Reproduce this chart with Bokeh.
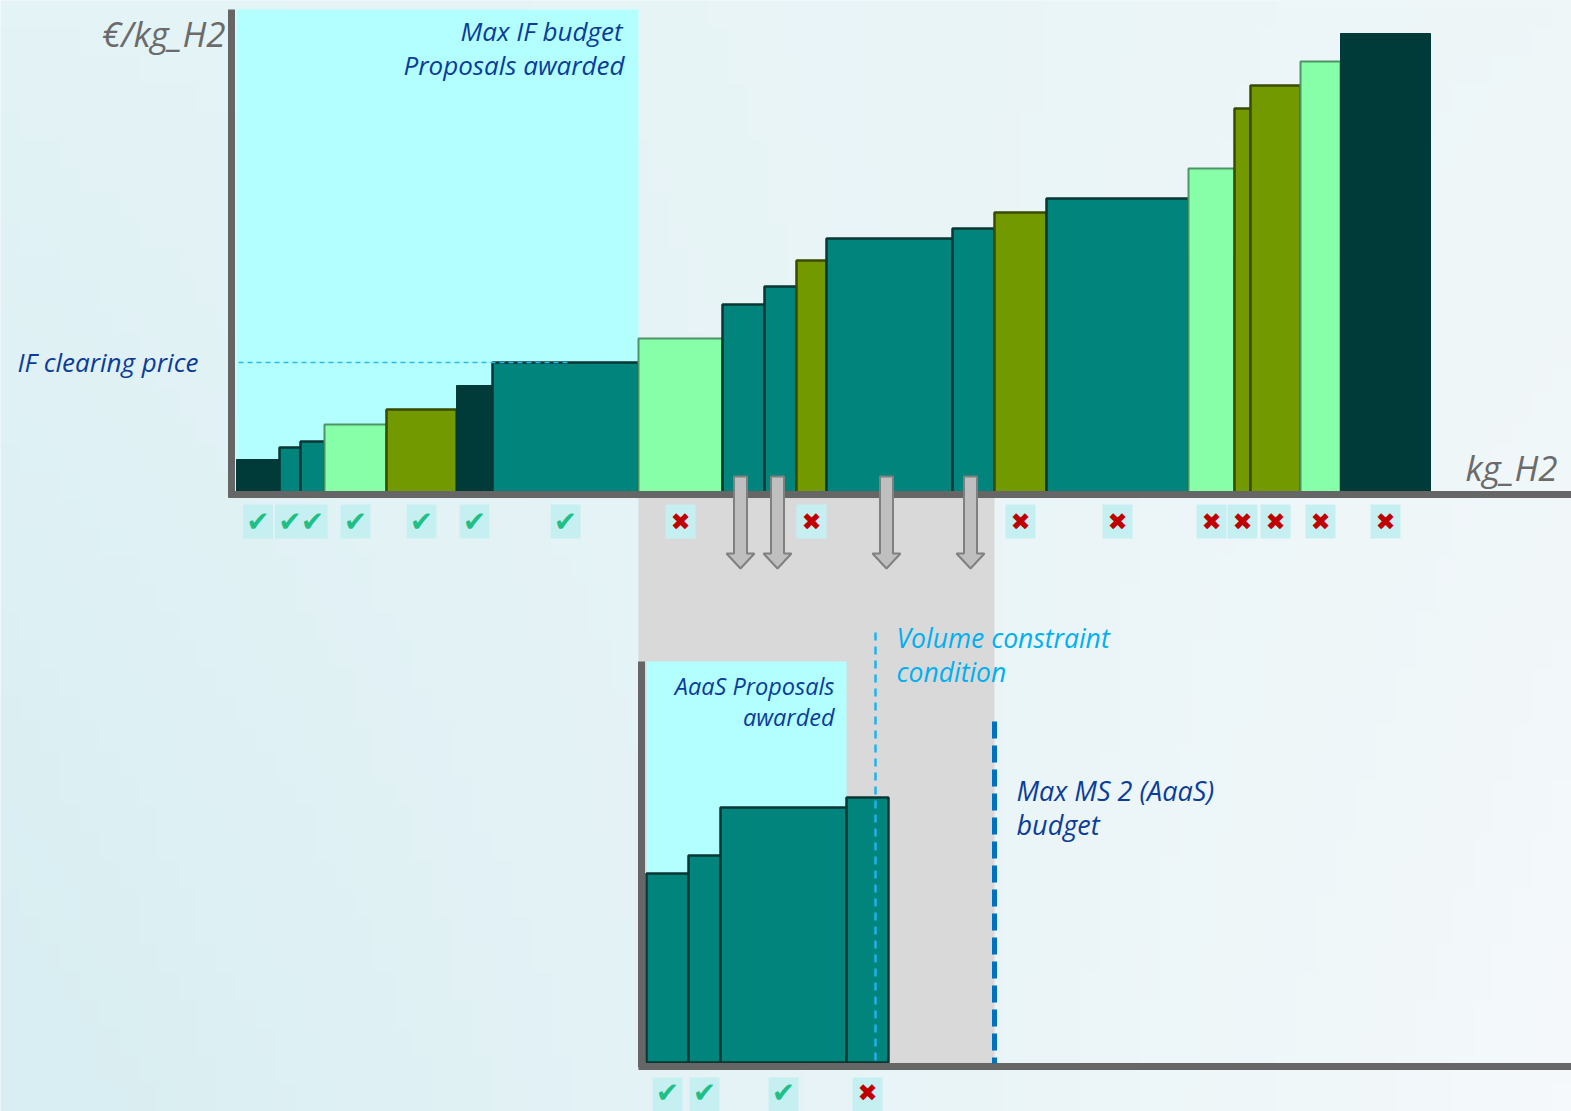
import numpy as np
from bokeh.plotting import figure
from bokeh.models import Range1d
from bokeh.core.properties import value
from bokeh.embed import file_html
from bokeh.resources import INLINE

# ---------------- data ----------------
# Innovation Fund merit order: volume (kt H2, illustrative) and bid price (EUR/kg H2)
volumes = [4.3, 2.1, 2.4, 6.2, 7.0, 3.6, 14.6, 8.4, 4.2, 3.2, 3.0, 12.6, 4.2, 5.2, 14.2, 4.6, 1.6, 5.0, 4.0, 9.0]
prices = [0.34, 0.46, 0.52, 0.69, 0.84, 1.08, 1.31, 1.55, 1.89, 2.07, 2.33, 2.55, 2.65, 2.81, 2.95, 3.25, 3.85, 4.08, 4.32, 4.60]
groups = ["dark", "teal", "teal", "light", "olive", "dark", "teal", "light", "teal", "teal",
          "olive", "teal", "teal", "olive", "teal", "light", "olive", "olive", "light", "dark"]
outcome = ["awarded"] * 7 + ["rejected", "aaas", "aaas", "rejected", "aaas", "aaas"] + ["rejected"] * 7
# Auction-as-a-Service (MS 2) outcome for bids passed down
aaas_outcome = ["awarded", "awarded", "awarded", "rejected"]
volume_constraint = 22.9     # AaaS volume constraint (same volume units)
ms2_budget_volume = 34.8     # Max MS 2 (AaaS) budget

fill = {"dark": "#003B3A", "teal": "#00847B", "light": "#86FFA8", "olive": "#729A00"}
edge = {"dark": "#003B3A", "teal": "#0A3734", "light": "#4E9466", "olive": "#3A4A00"}
edge_w = {"dark": 1, "teal": 2.5, "light": 2, "olive": 2.5}

# ---------------- derived ----------------
right = list(np.cumsum(volumes))
left = [r - v for r, v in zip(right, volumes)]
centers = [(l + r) / 2 for l, r in zip(left, right)]
n_award = outcome.count("awarded")
if_budget_vol = right[n_award - 1]
clearing_price = prices[n_award - 1]
aaas_idx = [i for i, o in enumerate(outcome) if o == "aaas"]
a_vol = [volumes[i] for i in aaas_idx]
a_price = [prices[i] for i in aaas_idx]
a_right = list(np.cumsum(a_vol))
a_left = [r - v for r, v in zip(a_right, a_vol)]
a_centers = [(l + r) / 2 for l, r in zip(a_left, a_right)]
gray_l = if_budget_vol
gray_r = right[aaas_idx[-1]]

W, H = 1571, 1111
p = figure(width=W, height=H, output_backend="svg", toolbar_location=None,
           x_range=Range1d(0, W), y_range=Range1d(H, 0),
           x_axis_type=None, y_axis_type=None, min_border=0)
p.outline_line_color = None
p.grid.visible = False
p.background_fill_color = "#E8F4F7"
p.border_fill_color = "#E8F4F7"

# top chart: 10 px per volume unit, 100 px per EUR; origin at (236, 493)
p.extra_x_ranges = {"tx": Range1d(-23.6, (W - 236) / 10), "lx": Range1d(-64.6, (W - 646) / 10)}
p.extra_y_ranges = {"ty": Range1d((493 - H) / 100, 493 / 100), "ly": Range1d((1062 - H) / 100, 1062 / 100)}

# background gradient
ny, nx = 40, 80
tl, bl, tr, br = [np.array(c) for c in [(0xE3, 0xF3, 0xF6), (0xD8, 0xEE, 0xF2), (0xEE, 0xF6, 0xF8), (0xF5, 0xF9, 0xFB)]]
img = np.zeros((ny, nx), dtype=np.uint32)
view = img.view(dtype=np.uint8).reshape((ny, nx, 4))
for j in range(ny):
    fy = j / (ny - 1)
    for i in range(nx):
        fx = i / (nx - 1)
        c = (tl * (1 - fx) + tr * fx) * (1 - fy) + (bl * (1 - fx) + br * fx) * fy
        view[j, i, 0:3] = c.astype(np.uint8)
        view[j, i, 3] = 255
p.image_rgba(image=[img], x=0, y=0, dw=W, dh=H)

# shaded areas
p.quad(left=[0], right=[if_budget_vol], bottom=[0], top=[4.84], fill_color="#B3FFFF",
       line_color=None, x_range_name="tx", y_range_name="ty")
p.quad(left=[gray_l], right=[gray_r], bottom=[1063], top=[497], fill_color="#D9D9D9",
       line_color=None, x_range_name="tx")
p.quad(left=[0], right=[a_right[2]], bottom=[0], top=[4.01], fill_color="#B3FFFF",
       line_color=None, x_range_name="lx", y_range_name="ly")

# top bars
p.quad(left=left, right=right, bottom=[0] * len(volumes), top=prices,
       fill_color=[fill[g] for g in groups], line_color=[edge[g] for g in groups],
       line_width=[edge_w[g] for g in groups], x_range_name="tx", y_range_name="ty")
# lower bars
p.quad(left=a_left, right=a_right, bottom=[0] * len(a_vol), top=a_price,
       fill_color=fill["teal"], line_color=edge["teal"], line_width=2.5,
       x_range_name="lx", y_range_name="ly")

# clearing price dashed line
p.segment(x0=[0.2], y0=[clearing_price], x1=[33.4], y1=[clearing_price], line_color="#2BB8EC",
          line_width=1.5, line_dash="5 4", x_range_name="tx", y_range_name="ty")

# axes lines
axc = "#666666"
p.segment(x0=[231], y0=[9], x1=[231], y1=[497], line_color=axc, line_width=7)
p.segment(x0=[228], y0=[494], x1=[W], y1=[494], line_color=axc, line_width=7)
p.segment(x0=[641], y0=[661], x1=[641], y1=[1067], line_color=axc, line_width=7)
p.segment(x0=[638], y0=[1066], x1=[W], y1=[1066], line_color=axc, line_width=7)

# volume constraint and MS2 budget lines
p.segment(x0=[volume_constraint], y0=[632], x1=[volume_constraint], y1=[1062], line_color="#1EB2EE",
          line_width=2.5, line_dash="8 6", x_range_name="lx")
p.segment(x0=[ms2_budget_volume], y0=[721], x1=[ms2_budget_volume], y1=[1063], line_color="#0070C0",
          line_width=5, line_dash="17 7", x_range_name="lx")

# arrows for bids passed to AaaS
axs, ays = [], []
for i in aaas_idx:
    c = centers[i] - 0.3
    axs.append([c - 0.65, c + 0.65, c + 0.65, c + 1.4, c, c - 1.4, c - 0.65])
    ays.append([476, 476, 553, 553, 568, 553, 553])
p.patches(xs=axs, ys=ays, fill_color="#BFBFBF", line_color="#808080", line_width=2, x_range_name="tx")

# outcome marks
def marks(xs, outs, y, rng, ty):
    ok = [x for x, o in zip(xs, outs) if o == "awarded"]
    ko = [x for x, o in zip(xs, outs) if o == "rejected"]
    allx = ok + ko
    p.rect(x=allx, y=[y] * len(allx), width=30, height=34, width_units="screen", height_units="screen",
           fill_color="#C6EFF1", line_color=None, x_range_name=rng)
    p.text(x=ok, y=[ty] * len(ok), text=["✔"] * len(ok), text_align="center", text_baseline="middle",
           text_font=value("DejaVu Sans"), text_font_size="28px", text_color="#1FBF86", x_range_name=rng)
    p.text(x=ko, y=[ty] * len(ko), text=["✖"] * len(ko), text_align="center", text_baseline="middle",
           text_font=value("DejaVu Sans"), text_font_size="24px", text_color="#C00000", x_range_name=rng)

marks(centers, outcome, 521, "tx", 521)
marks(a_centers, aaas_outcome, 1094, "lx", 1092)

# texts
F = value("Open Sans")
def txt(x, y, s, color, size, align="left"):
    p.text(x=[x], y=[y], text=[s], text_color=color, text_font=F, text_font_style="italic",
           text_font_size=size, text_align=align, text_baseline="middle")

dark_blue = "#0B3C9A"
txt(225, 33, "€/kg_H2", "#6B6B6B", "35px", "right")
txt(1557, 467, "kg_H2", "#6B6B6B", "35px", "right")
txt(622, 30, "Max IF budget", dark_blue, "26px", "right")
txt(624, 64, "Proposals awarded", dark_blue, "26px", "right")
txt(17, 361, "IF clearing price", dark_blue, "26px")
txt(834, 685, "AaaS Proposals", dark_blue, "23.5px", "right")
txt(834, 716, "awarded", dark_blue, "23.5px", "right")
txt(896, 637, "Volume constraint", "#00B0F0", "26.5px")
txt(896, 671, "condition", "#00B0F0", "26.5px")
txt(1016, 790, "Max MS 2 (AaaS)", dark_blue, "27px")
txt(1016, 824, "budget", dark_blue, "27px")

open("out.html", "w").write(file_html(p, INLINE))
